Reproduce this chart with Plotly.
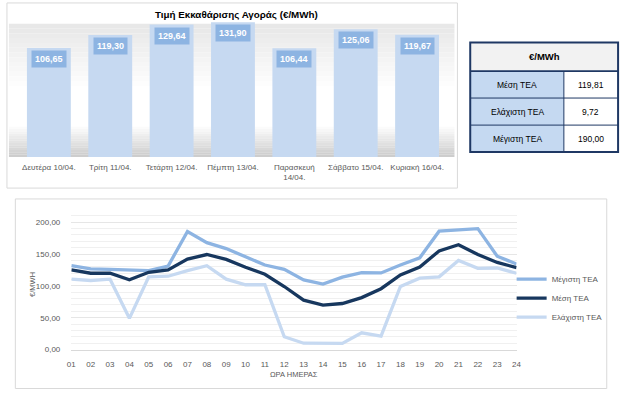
import plotly.graph_objects as go

W, H = 629, 395

# ---------------- data ----------------
days = ["Δευτέρα 10/04.", "Τρίτη 11/04.", "Τετάρτη 12/04.", "Πέμπτη 13/04.",
        "Παρασκευή<br>14/04.", "Σάββατο 15/04.", "Κυριακή 16/04."]
day_prices = [106.65, 119.30, 129.64, 131.90, 106.44, 125.06, 119.67]

hours = ["01", "02", "03", "04", "05", "06", "07", "08", "09", "10", "11", "12",
         "13", "14", "15", "16", "17", "18", "19", "20", "21", "22", "23", "24"]
max_tea = [131.7, 126.6, 126.0, 125.0, 124.0, 131.2, 185.5, 167.9, 158.6, 145.7, 132.8, 126.0,
           109.5, 102.8, 113.7, 120.9, 120.4, 132.8, 144.2, 186.0, 188.6, 190.0, 146.7, 134.3]
mean_tea = [125.0, 119.9, 119.9, 109.5, 121.4, 125.0, 142.1, 149.3, 141.6, 129.2, 118.3, 99.0,
            77.5, 69.7, 72.3, 81.6, 95.6, 117.3, 129.7, 155.0, 164.8, 149.3, 136.9, 128.6]
min_tea = [110.6, 108.5, 110.6, 49.0, 114.2, 115.2, 124.0, 131.7, 110.6, 101.8, 101.8, 20.1,
           9.9, 9.72, 9.72, 26.3, 21.2, 99.2, 112.1, 114.2, 140.0, 127.6, 128.1, 119.9]

table_header = "€/MWh"
stat_labels = ["Μέση ΤΕΑ", "Ελάχιστη ΤΕΑ", "Μέγιστη ΤΕΑ"]
stat_values = [119.81, 9.72, 190.00]

bar_title = "Τιμή Εκκαθάρισης Αγοράς (€/MWh)"
x_title = "ΩΡΑ ΗΜΕΡΑΣ"
y_title = "€/MWH"

# ---------------- helpers ----------------
def px(x):
    return x / W

def py(y):
    return 1 - y / H

def gr(v):
    return f"#{v:02x}{v:02x}{v:02x}"

def fmt(v):
    return f"{v:.2f}".replace(".", ",")

FONT = "Liberation Sans"
GRAY = "#595959"
C_MAX = "#8DB4E2"
C_MEAN = "#17375E"
C_MIN = "#C6D9F1"
NAVY = "#1F3864"

fig = go.Figure()

# ---------------- top bar chart ----------------
fig.add_trace(go.Bar(
    x=days, y=day_prices, xaxis="x2", yaxis="y2",
    marker=dict(color="#C6D9F1", line=dict(width=0)),
    showlegend=False, hoverinfo="skip",
))

# ---------------- bottom line chart ----------------
fig.add_trace(go.Scatter(x=hours, y=max_tea, mode="lines", name="Μέγιστη ΤΕΑ",
                         line=dict(color=C_MAX, width=3.3)))
fig.add_trace(go.Scatter(x=hours, y=mean_tea, mode="lines", name="Μέση ΤΕΑ",
                         line=dict(color=C_MEAN, width=3.3)))
fig.add_trace(go.Scatter(x=hours, y=min_tea, mode="lines", name="Ελάχιστη ΤΕΑ",
                         line=dict(color=C_MIN, width=3.3)))

shapes = []
annotations = []

def note(text, x, y, size, color="#000000", xref="paper", yref="paper", **kw):
    d = dict(text=text, xref=xref, yref=yref, x=x, y=y, showarrow=False,
             xanchor="center", yanchor="middle",
             font=dict(family=FONT, size=size, color=color))
    d.update(kw)
    annotations.append(d)

# top panel background gradient (decoration)
n = 14
y0, y1 = 24, 92
for i in range(n):
    a = y0 + (y1 - y0) * i / n
    b = y0 + (y1 - y0) * (i + 1) / n
    v = int(232 + (255 - 232) * (i / (n - 1)))
    shapes.append(dict(type="rect", xref="paper", yref="paper", layer="below",
                       x0=px(5), x1=px(457), y0=py(b), y1=py(a),
                       fillcolor=gr(v), line=dict(width=0)))
y0, y1 = 126, 159
for i in range(n):
    a = y0 + (y1 - y0) * i / n
    b = y0 + (y1 - y0) * (i + 1) / n
    v = int(255 - (255 - 205) * (i / (n - 1)))
    shapes.append(dict(type="rect", xref="paper", yref="paper", layer="below",
                       x0=px(5), x1=px(457), y0=py(b), y1=py(a),
                       fillcolor=gr(v), line=dict(width=0)))

# panel borders
shapes.append(dict(type="rect", xref="paper", yref="paper",
                   x0=px(3), x1=px(460), y0=py(190.5), y1=py(3),
                   line=dict(color="#D9D9D9", width=1)))
shapes.append(dict(type="rect", xref="paper", yref="paper",
                   x0=px(11.5), x1=px(611.5), y0=py(393.5), y1=py(201.5),
                   line=dict(color="#D9D9D9", width=1)))

# bar chart title and value labels
note(f"<b>{bar_title}</b>", px(236), py(15), 9.8)
for d, v in zip(days, day_prices):
    note(f"<b>{fmt(v)}</b>", d, v, 9, color="#FFFFFF", xref="x2", yref="y2",
         yanchor="top", yshift=-2, bgcolor="#8DB4E2", borderpad=3)

# ---------------- table (shapes + text) ----------------
TL, TR, TM = 473, 623, 568
row_y = [43, 72, 99.3, 126.7, 154]
shapes.append(dict(type="rect", xref="paper", yref="paper",
                   x0=px(TL), x1=px(TR), y0=py(row_y[1]), y1=py(row_y[0]),
                   fillcolor="#F2F2F2", line=dict(width=0)))
shapes.append(dict(type="rect", xref="paper", yref="paper",
                   x0=px(TL), x1=px(TM), y0=py(row_y[4]), y1=py(row_y[1]),
                   fillcolor="#C5D9F1", line=dict(width=0)))
shapes.append(dict(type="rect", xref="paper", yref="paper",
                   x0=px(TM), x1=px(TR), y0=py(row_y[4]), y1=py(row_y[1]),
                   fillcolor="#FFFFFF", line=dict(width=0)))
for k, yy in enumerate(row_y[1:4]):
    shapes.append(dict(type="line", xref="paper", yref="paper",
                       x0=px(TL), x1=px(TR), y0=py(yy), y1=py(yy),
                       line=dict(color=NAVY, width=1.6 if k == 0 else 1)))
shapes.append(dict(type="line", xref="paper", yref="paper",
                   x0=px(TM), x1=px(TM), y0=py(row_y[4]), y1=py(row_y[1]),
                   line=dict(color=NAVY, width=1)))
shapes.append(dict(type="rect", xref="paper", yref="paper",
                   x0=px(TL), x1=px(TR), y0=py(row_y[4]), y1=py(row_y[0]),
                   line=dict(color=NAVY, width=2)))
note(f"<b>{table_header}</b>", px((TL + TR) / 2), py((row_y[0] + row_y[1]) / 2), 9.5)
for i, (lab, val) in enumerate(zip(stat_labels, stat_values)):
    yc = (row_y[i + 1] + row_y[i + 2]) / 2
    note(lab, px((TL + TM) / 2), py(yc), 8.5)
    note(fmt(val), px((TM + TR) / 2), py(yc), 8.5)

# axis titles for line chart
note(x_title, px(294), py(379), 7.5, color=GRAY)
note(y_title, px(29), py(288), 7.5, color=GRAY, textangle=-90)

fig.update_layout(
    width=W, height=H,
    margin=dict(l=0, r=0, t=0, b=0),
    paper_bgcolor="#FFFFFF", plot_bgcolor="rgba(0,0,0,0)",
    separators=",.",
    font=dict(family=FONT, color=GRAY, size=8),
    bargap=0.285,
    shapes=shapes,
    annotations=annotations,
    hovermode=False,
    xaxis2=dict(domain=[px(14.4), px(450.2)], anchor="y2", type="category",
                showgrid=False, showline=False, ticks="", zeroline=False,
                tickfont=dict(family=FONT, size=8, color=GRAY), ticklabelstandoff=4),
    yaxis2=dict(domain=[py(159), py(20)], anchor="x2", range=[0, 134.3],
                visible=False, fixedrange=True),
    xaxis=dict(domain=[px(68.3), px(520)], anchor="y", type="category",
               showgrid=False, showline=True, linecolor="#D9D9D9", linewidth=1,
               ticks="", zeroline=False,
               tickfont=dict(family=FONT, size=8, color=GRAY), ticklabelstandoff=7),
    yaxis=dict(domain=[py(354), py(212.1)], anchor="x", range=[0, 220.2],
               dtick=50, tick0=0, tickformat=".2f", showgrid=True, gridcolor="#E6E6E6",
               gridwidth=1, zeroline=False, showline=False, ticks="",
               minor=dict(dtick=10, showgrid=True, gridcolor="#F0F0F0", gridwidth=1),
               tickfont=dict(family=FONT, size=8, color=GRAY), ticklabelstandoff=10),
    legend=dict(x=px(515), y=py(302), xanchor="left", yanchor="middle",
                bgcolor="rgba(0,0,0,0)", borderwidth=0, traceorder="normal",
                font=dict(family=FONT, size=8, color=GRAY)),
    showlegend=True,
)

fig.write_html("out.html", config={"displayModeBar": False},
               post_script="document.body.style.margin='0';")
